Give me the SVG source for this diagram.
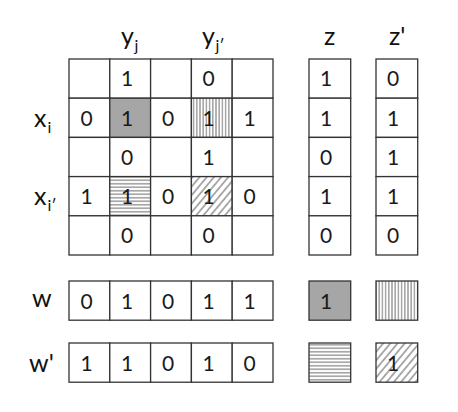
<svg xmlns="http://www.w3.org/2000/svg" width="458" height="412" viewBox="0 0 458 412">
<style>
.cell{fill:#fff;stroke:#333;stroke-width:1.3}
.d{font-family:Lato,"Liberation Sans",sans-serif;font-size:21px;fill:#1a1a1a}
.lb{font-family:Lato,"Liberation Sans",sans-serif;font-size:25px;fill:#111}
.sb{font-family:Lato,"Liberation Sans",sans-serif;font-size:16px;fill:#111}
.gray{fill:#a6a6a6}
.vert{fill:url(#pv)}
.horz{fill:url(#ph)}
.diag{fill:url(#pd)}
</style>
<defs>
<pattern id="pv" patternUnits="userSpaceOnUse" width="3.2" height="10">
<rect width="3.2" height="10" fill="#fff"/>
<line x1="1.6" y1="0" x2="1.6" y2="10" stroke="#9a9a9a" stroke-width="1.4"/>
</pattern>
<pattern id="ph" patternUnits="userSpaceOnUse" width="10" height="3.5">
<rect width="10" height="3.5" fill="#fff"/>
<line x1="0" y1="1.75" x2="10" y2="1.75" stroke="#9a9a9a" stroke-width="1.5"/>
</pattern>
<pattern id="pd" patternUnits="userSpaceOnUse" width="5.5" height="10" patternTransform="rotate(40)">
<rect width="5.5" height="10" fill="#fff"/>
<line x1="2.75" y1="0" x2="2.75" y2="10" stroke="#999" stroke-width="1.6"/>
</pattern>
</defs>
<rect width="458" height="412" fill="#fff"/>

<g id="labels">
<text class="lb" x="121" y="45">y</text><text class="sb" x="134.5" y="51">j</text>
<text class="lb" x="202" y="45">y</text><text class="sb" x="215.5" y="51">j′</text>
<text class="lb" x="324" y="45">z</text>
<text class="lb" x="389" y="45">z'</text>
<text class="lb" x="34" y="127">x</text><text class="sb" x="47.5" y="133">i</text>
<text class="lb" x="34" y="205">x</text><text class="sb" x="47.5" y="211">i′</text>
<text class="lb" x="32" y="307">w</text>
<text class="lb" x="29" y="372">w'</text>
</g>

<g id="matrix">
<rect class="cell" x="69" y="59" width="40.8" height="39.2"/>
<rect class="cell" x="109.8" y="59" width="40.8" height="39.2"/>
<rect class="cell" x="150.6" y="59" width="40.8" height="39.2"/>
<rect class="cell" x="191.4" y="59" width="40.8" height="39.2"/>
<rect class="cell" x="232.2" y="59" width="40.8" height="39.2"/>
<rect class="cell" x="69" y="98.2" width="40.8" height="39.2"/>
<rect class="cell gray" x="109.8" y="98.2" width="40.8" height="39.2"/>
<rect class="cell" x="150.6" y="98.2" width="40.8" height="39.2"/>
<rect class="cell vert" x="191.4" y="98.2" width="40.8" height="39.2"/>
<rect class="cell" x="232.2" y="98.2" width="40.8" height="39.2"/>
<rect class="cell" x="69" y="137.4" width="40.8" height="39.2"/>
<rect class="cell" x="109.8" y="137.4" width="40.8" height="39.2"/>
<rect class="cell" x="150.6" y="137.4" width="40.8" height="39.2"/>
<rect class="cell" x="191.4" y="137.4" width="40.8" height="39.2"/>
<rect class="cell" x="232.2" y="137.4" width="40.8" height="39.2"/>
<rect class="cell" x="69" y="176.6" width="40.8" height="39.2"/>
<rect class="cell horz" x="109.8" y="176.6" width="40.8" height="39.2"/>
<rect class="cell" x="150.6" y="176.6" width="40.8" height="39.2"/>
<rect class="cell diag" x="191.4" y="176.6" width="40.8" height="39.2"/>
<rect class="cell" x="232.2" y="176.6" width="40.8" height="39.2"/>
<rect class="cell" x="69" y="215.8" width="40.8" height="39.2"/>
<rect class="cell" x="109.8" y="215.8" width="40.8" height="39.2"/>
<rect class="cell" x="150.6" y="215.8" width="40.8" height="39.2"/>
<rect class="cell" x="191.4" y="215.8" width="40.8" height="39.2"/>
<rect class="cell" x="232.2" y="215.8" width="40.8" height="39.2"/>
<text class="d" x="121" y="86">1</text>
<text class="d" x="202.5" y="86">0</text>
<text class="d" x="80.5" y="125.5">0</text>
<text class="d" x="121" y="125.5">1</text>
<text class="d" x="162" y="125.5">0</text>
<text class="d" x="202.5" y="125.5">1</text>
<text class="d" x="243.5" y="125.5">1</text>
<text class="d" x="121" y="164.5">0</text>
<text class="d" x="202.5" y="164.5">1</text>
<text class="d" x="80.5" y="204">1</text>
<text class="d" x="121" y="204">1</text>
<text class="d" x="162" y="204">0</text>
<text class="d" x="202.5" y="204">1</text>
<text class="d" x="243.5" y="204">0</text>
<text class="d" x="121" y="243">0</text>
<text class="d" x="202.5" y="243">0</text>
</g>

<g id="z">
<rect class="cell" x="309" y="59" width="41.7" height="39.2"/>
<rect class="cell" x="309" y="98.2" width="41.7" height="39.2"/>
<rect class="cell" x="309" y="137.4" width="41.7" height="39.2"/>
<rect class="cell" x="309" y="176.6" width="41.7" height="39.2"/>
<rect class="cell" x="309" y="215.8" width="41.7" height="39.2"/>
<text class="d" x="320" y="86">1</text>
<text class="d" x="320" y="125.5">1</text>
<text class="d" x="320" y="164.5">0</text>
<text class="d" x="320" y="204">1</text>
<text class="d" x="320" y="243">0</text>
</g>

<g id="z-prime">
<rect class="cell" x="376" y="59" width="41.7" height="39.2"/>
<rect class="cell" x="376" y="98.2" width="41.7" height="39.2"/>
<rect class="cell" x="376" y="137.4" width="41.7" height="39.2"/>
<rect class="cell" x="376" y="176.6" width="41.7" height="39.2"/>
<rect class="cell" x="376" y="215.8" width="41.7" height="39.2"/>
<text class="d" x="387" y="86">0</text>
<text class="d" x="387" y="125.5">1</text>
<text class="d" x="387" y="164.5">1</text>
<text class="d" x="387" y="204">1</text>
<text class="d" x="387" y="243">0</text>
</g>

<g id="w">
<rect class="cell" x="69" y="281" width="40.8" height="39.2"/>
<rect class="cell" x="109.8" y="281" width="40.8" height="39.2"/>
<rect class="cell" x="150.6" y="281" width="40.8" height="39.2"/>
<rect class="cell" x="191.4" y="281" width="40.8" height="39.2"/>
<rect class="cell" x="232.2" y="281" width="40.8" height="39.2"/>
<text class="d" x="80.5" y="308.5">0</text>
<text class="d" x="121" y="308.5">1</text>
<text class="d" x="162" y="308.5">0</text>
<text class="d" x="202.5" y="308.5">1</text>
<text class="d" x="243.5" y="308.5">1</text>
</g>

<g id="w-prime">
<rect class="cell" x="69" y="343" width="40.8" height="39.2"/>
<rect class="cell" x="109.8" y="343" width="40.8" height="39.2"/>
<rect class="cell" x="150.6" y="343" width="40.8" height="39.2"/>
<rect class="cell" x="191.4" y="343" width="40.8" height="39.2"/>
<rect class="cell" x="232.2" y="343" width="40.8" height="39.2"/>
<text class="d" x="80.5" y="370.5">1</text>
<text class="d" x="121" y="370.5">1</text>
<text class="d" x="162" y="370.5">0</text>
<text class="d" x="202.5" y="370.5">1</text>
<text class="d" x="243.5" y="370.5">0</text>
</g>

<g id="wz">
<rect class="cell gray" x="309" y="281" width="41.7" height="39.2"/>
<text class="d" x="320" y="308.5">1</text>
</g>
<g id="wz-prime">
<rect class="cell vert" x="376" y="281" width="41.7" height="39.2"/>
</g>
<g id="w-prime-z">
<rect class="cell horz" x="309" y="343" width="41.7" height="39.2"/>
</g>
<g id="w-prime-z-prime">
<rect class="cell diag" x="376" y="343" width="41.7" height="39.2"/>
<text class="d" x="387" y="370.5">1</text>
</g>
</svg>
